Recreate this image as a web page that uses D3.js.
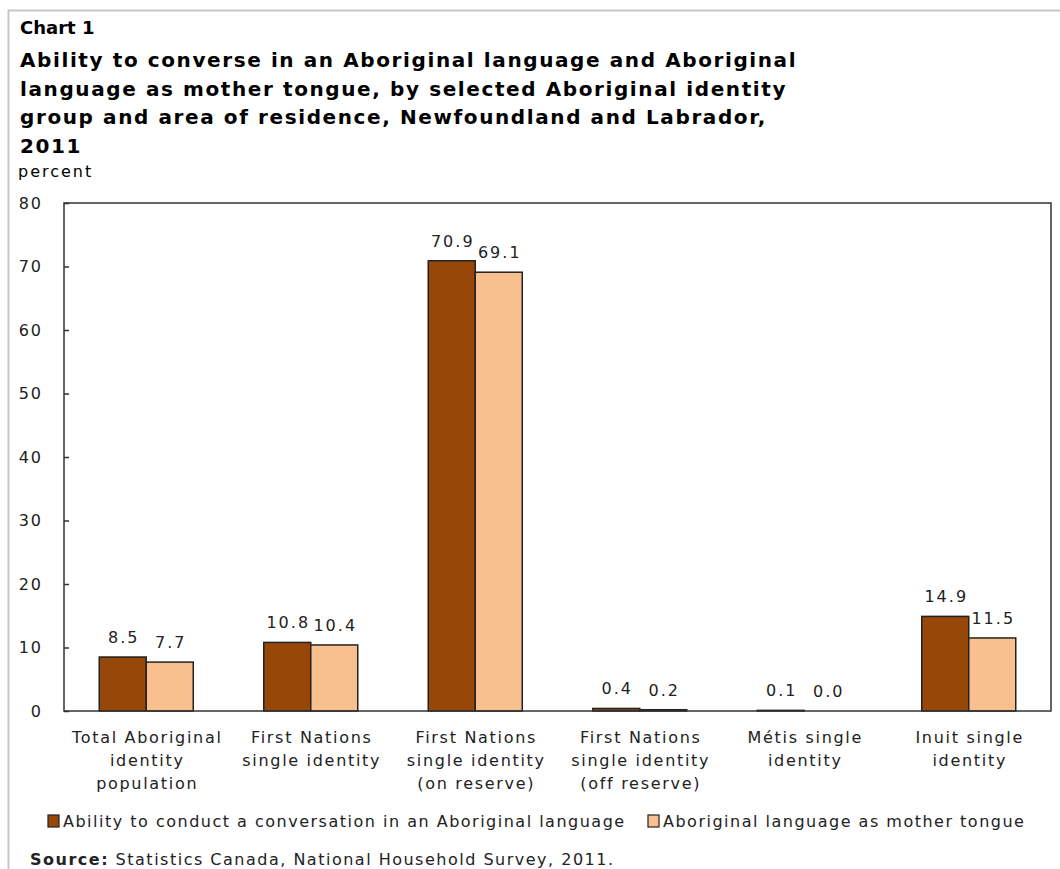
<!DOCTYPE html>
<html><head><meta charset="utf-8">
<script src="https://cdn.jsdelivr.net/npm/d3@7"></script>
<style>body{margin:0;background:#fff;} svg{display:block;font-family:"DejaVu Sans",Verdana,sans-serif;}</style>
</head><body>
<script>
const categories = [
  ["Total Aboriginal","identity","population"],
  ["First Nations","single identity"],
  ["First Nations","single identity","(on reserve)"],
  ["First Nations","single identity","(off reserve)"],
  ["Métis single","identity"],
  ["Inuit single","identity"]
];
const seriesNames = ["Ability to conduct a conversation in an Aboriginal language","Aboriginal language as mother tongue"];
const conversation = [8.5, 10.8, 70.9, 0.4, 0.1, 14.9];
const motherTongue = [7.7, 10.4, 69.1, 0.2, 0.0, 11.5];
const yTicks = [0,10,20,30,40,50,60,70,80];
const colors = ["#974708","#F9C08F"];
const titleLines = ["Ability to converse in an Aboriginal language and Aboriginal","language as mother tongue, by selected Aboriginal identity","group and area of residence, Newfoundland and Labrador,","2011"];

const W=1060,H=869;
const svg=d3.select("body").append("svg").attr("width",W).attr("height",H);
// frame
svg.append("line").attr("x1",8.5).attr("x2",8.5).attr("y1",10).attr("y2",H).attr("stroke","#c8c8c8").attr("stroke-width",2);
svg.append("line").attr("x1",8).attr("x2",W).attr("y1",10.5).attr("y2",10.5).attr("stroke","#c8c8c8").attr("stroke-width",2);

svg.append("text").attr("x",20).attr("y",34).attr("font-size",18).attr("font-weight","bold").text("Chart 1");
titleLines.forEach((t,i)=>svg.append("text").attr("x",20).attr("y",67+i*28.5).attr("font-size",20).attr("font-weight","bold")
  .attr("letter-spacing",1.6).text(t));
svg.append("text").attr("x",18).attr("y",177).attr("font-size",16).attr("letter-spacing",2).text("percent");

const L=64,R=1051,T=203,B=711;
const x=d3.scaleBand().domain(d3.range(categories.length)).range([L,R]);
const x1=d3.scaleBand().domain([0,1]).range([0,94]);
const y=d3.scaleLinear().domain([0,80]).range([B,T]);

const g=svg.append("g");
const data=categories.map((c,i)=>[conversation[i],motherTongue[i]]);
data.forEach((vals,i)=>{
  const cx=x(i)+x.bandwidth()/2;
  vals.forEach((v,s)=>{
    const bx=cx-47+x1(s);
    g.append("rect").attr("x",bx).attr("y",y(v)).attr("width",x1.bandwidth()).attr("height",B-y(v))
      .attr("fill",colors[s]).attr("stroke","#222").attr("stroke-width",v>0?1.5:0);
    g.append("text").attr("x",bx+x1.bandwidth()/2+1).attr("y",y(v)-14).attr("text-anchor","middle").attr("font-size",16).attr("letter-spacing",2).attr("fill","#222")
      .text(v.toFixed(1));
  });
  categories[i].forEach((t,j)=>g.append("text").attr("x",cx+1).attr("y",743+j*23).attr("text-anchor","middle").attr("font-size",16).attr("letter-spacing",1.7).attr("fill","#222").text(t));
});

// axis box
svg.append("rect").attr("x",L).attr("y",T).attr("width",R-L).attr("height",B-T).attr("fill","none").attr("stroke","#333").attr("stroke-width",1.5);
const ax=svg.append("g").attr("transform",`translate(${L},0)`).call(d3.axisLeft(y).tickValues(yTicks).tickSize(5).tickPadding(16).tickFormat(d3.format("d")));
ax.select(".domain").remove();
ax.selectAll("line").attr("stroke","#333").attr("x1",0).attr("x2",5).attr("stroke-width",1.5);
ax.selectAll("text").attr("font-size",16).attr("letter-spacing",2).attr("font-family","DejaVu Sans, Verdana, sans-serif").attr("fill","#222");

// legend
const legX=[48,648];
seriesNames.forEach((n,i)=>{
  svg.append("rect").attr("x",legX[i]).attr("y",815).attr("width",11).attr("height",12).attr("fill",colors[i]).attr("stroke","#222").attr("stroke-width",1.2);
  svg.append("text").attr("x",legX[i]+15).attr("y",827).attr("font-size",16).attr("letter-spacing",1.5).attr("fill","#222").text(n);
});
const src=svg.append("text").attr("x",30).attr("y",865).attr("font-size",16).attr("letter-spacing",1.5).attr("fill","#222");
src.append("tspan").attr("font-weight","bold").text("Source:");
src.append("tspan").text(" Statistics Canada, National Household Survey, 2011.");
</script>
</body></html>
